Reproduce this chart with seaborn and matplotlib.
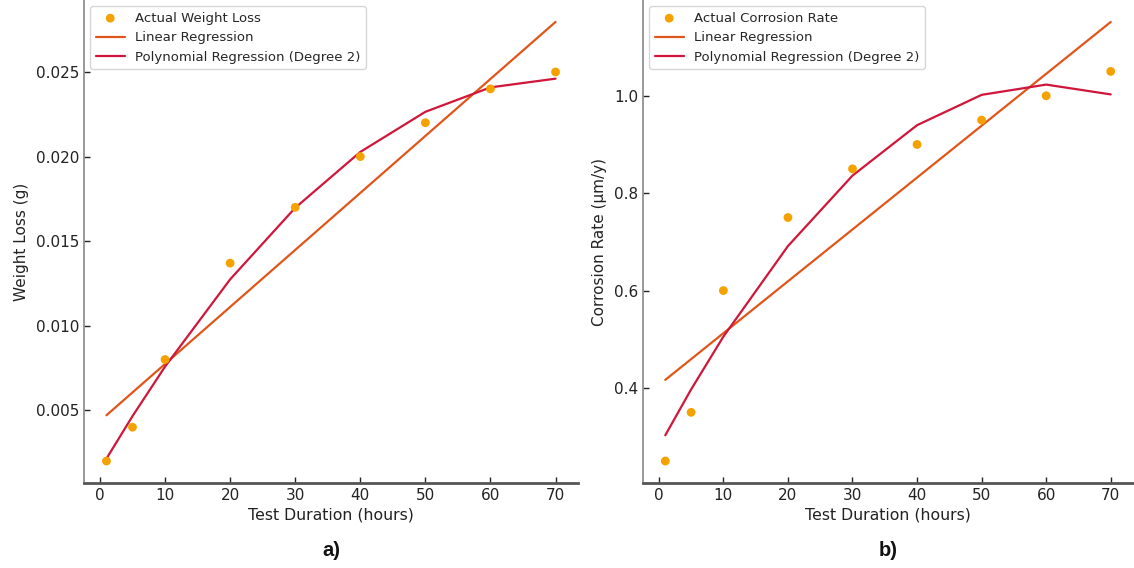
import numpy as np
import pandas as pd
import matplotlib
matplotlib.use("Agg")
import matplotlib.pyplot as plt
import seaborn as sns

# Data
duration = [1, 5, 10, 20, 30, 40, 50, 60, 70]
weight_loss = [0.002, 0.004, 0.008, 0.0137, 0.017, 0.020, 0.022, 0.024, 0.025]
corrosion_rate = [0.25, 0.35, 0.60, 0.75, 0.85, 0.90, 0.95, 1.00, 1.05]

sns.set_style("white")
plt.rcParams["font.family"] = ["DejaVu Sans"]

fig = plt.figure(figsize=(11.34, 5.68), dpi=100)
ax1 = fig.add_axes([84 / 1134, 1 - 483 / 568, (578 - 84) / 1134, 483 / 568])
ax2 = fig.add_axes([643 / 1134, 1 - 483 / 568, (1133 - 643) / 1134, 483 / 568])

c_pts = "#F5A100"
c_lin = "#E0561A"
c_poly = "#D0163A"


def panel(ax, x, y, pts_label, ylabel, letter):
    x = np.asarray(x, float)
    y = np.asarray(y, float)
    lin = np.polyval(np.polyfit(x, y, 1), x)
    poly = np.polyval(np.polyfit(x, y, 2), x)
    df = pd.DataFrame({"x": x, "y": y, "lin": lin, "poly": poly})
    sns.scatterplot(data=df, x="x", y="y", ax=ax, color=c_pts, s=40,
                    edgecolor="none", label=pts_label, zorder=3)
    sns.lineplot(data=df, x="x", y="lin", ax=ax, color=c_lin, lw=1.6,
                 label="Linear Regression")
    sns.lineplot(data=df, x="x", y="poly", ax=ax, color=c_poly, lw=1.6,
                 label="Polynomial Regression (Degree 2)")
    ax.set_xlabel("Test Duration (hours)", fontsize=11.3, color="#222222",
                  labelpad=3)
    ax.set_ylabel(ylabel, fontsize=11, color="#222222", labelpad=5)
    ax.set_xticks([0, 10, 20, 30, 40, 50, 60, 70])
    ax.tick_params(direction="in", length=4, width=1, labelsize=11,
                   colors="#222222", left=True, bottom=True)
    for s in ["top", "right"]:
        ax.spines[s].set_visible(False)
    ax.spines["left"].set_color("#888888")
    ax.spines["left"].set_linewidth(1.2)
    ax.spines["bottom"].set_color("#555555")
    ax.spines["bottom"].set_linewidth(2)
    leg = ax.legend(loc="upper left", fontsize=9.5, frameon=True,
                    bbox_to_anchor=(0.005, 0.995), borderaxespad=0.3,
                    handlelength=2.2)
    leg.get_frame().set_edgecolor("#cccccc")
    ax.text(0.5, -(550 - 483) / 483, letter, transform=ax.transAxes,
            ha="center", va="center", fontsize=14.5, fontweight="bold",
            family="Liberation Sans", color="#111111")


panel(ax1, duration, weight_loss, "Actual Weight Loss", "Weight Loss (g)", "a)")
panel(ax2, duration, corrosion_rate, "Actual Corrosion Rate",
      "Corrosion Rate (µm/y)", "b)")
ax1.set_yticks([0.005, 0.010, 0.015, 0.020, 0.025])
ax1.set_yticklabels(["0.005", "0.010", "0.015", "0.020", "0.025"])
ax2.set_yticks([0.4, 0.6, 0.8, 1.0])

fig.savefig("out.png", dpi=100)
